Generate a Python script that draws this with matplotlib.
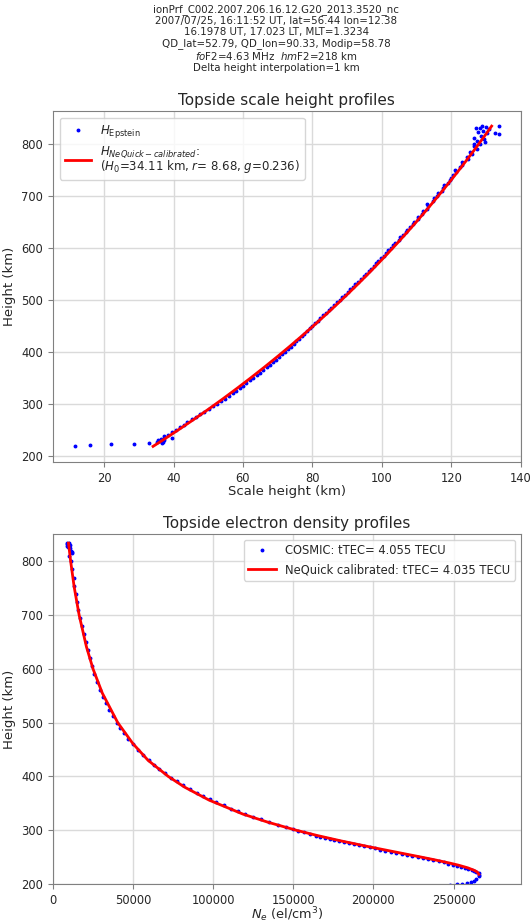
import matplotlib
matplotlib.use("Agg")
import matplotlib.pyplot as plt
import numpy as np

# Header text
info_lines = [
    "ionPrf_C002.2007.206.16.12.G20_2013.3520_nc",
    "2007/07/25, 16:11:52 UT, lat=56.44 lon=12.38",
    "16.1978 UT, 17.023 LT, MLT=1.3234",
    "QD_lat=52.79, QD_lon=90.33, Modip=58.78",
    "$fo$F2=4.63 MHz  $hm$F2=218 km",
    "Delta height interpolation=1 km",
]

# --- Topside scale height: Epstein (points) ---
h_eps = [219, 220.6, 222, 222.5, 223.8, 226, 231, 229, 233, 227, 224.5, 230, 234.6,
         235, 238, 240, 245, 250, 255, 260, 265, 270, 275, 280, 285, 290, 295, 300,
         305, 310, 315, 320, 325, 330, 335, 340, 345, 350, 355, 360, 365, 370, 375,
         380, 385, 390, 395, 400, 405, 410, 415, 420, 425, 430, 435, 440, 445, 450,
         455, 460, 465, 470, 475, 480, 485, 490, 495, 500, 505, 510, 515, 520, 525,
         530, 535, 540, 545, 550, 555, 560, 565, 570, 575, 580, 585, 590, 595, 600,
         605, 610, 615, 620, 625, 630, 635, 640, 645, 650, 655, 660, 665, 670, 675,
         680, 685, 690, 695, 700, 705, 710, 715, 720, 725, 730, 735, 740, 745, 750,
         755, 760, 765, 770, 775, 780, 785, 790, 795, 800, 805, 810, 815, 820, 825,
         830, 812, 822, 828, 833, 820, 834, 818, 835, 831, 800, 803]
H_eps = [11.6, 15.9, 22.0, 28.7, 33.0, 35.2, 35.5, 36.0, 36.4, 37.0, 36.8, 37.3, 39.7,
         37.3, 37.4, 38.5, 39.5, 40.6, 41.8, 43.0, 44.0, 45.2, 46.4, 47.5, 48.8, 50.1,
         51.3, 52.6, 53.8, 54.9, 56.0, 57.1, 58.1, 59.1, 60.1, 61.0, 62.1, 63.0, 64.0,
         64.9, 65.9, 66.8, 67.7, 68.6, 69.5, 70.4, 71.2, 72.1, 72.9, 73.8, 74.6, 75.4,
         76.2, 77.0, 77.7, 78.5, 79.2, 80.0, 80.7, 81.5, 82.3, 83.1, 83.9, 84.7, 85.4,
         86.2, 87.0, 87.8, 88.6, 89.3, 90.1, 90.9, 91.7, 92.4, 93.2, 93.9, 94.8, 95.4,
         96.2, 96.9, 97.7, 98.4, 99.0, 99.8, 100.6, 101.2, 101.9, 102.7, 103.3, 103.9,
         104.8, 105.3, 106.0, 106.9, 107.2, 108.1, 108.9, 109.3, 110.4, 110.5, 111.6,
         111.8, 112.9, 113.2, 113.1, 114.6, 115.0, 115.9, 116.1, 117.2, 117.5, 118.0,
         118.9, 119.6, 119.8, 120.6, 121.3, 121.0, 122.5, 123.1, 123.2, 124.8, 124.6,
         125.9, 125.5, 127.3, 126.4, 128.2, 127.3, 129.5, 128.4, 130.4, 129.2, 128.3,
         126.5, 127.8, 130.8, 129.9, 132.5, 133.7, 133.7, 128.9, 127.2, 126.4, 129.6]

# --- Topside scale height: NeQuick calibrated (line) ---
h_nq = [218, 230, 250, 270, 290, 310, 330, 350, 370, 390, 410, 430, 450, 470, 490,
        510, 530, 550, 570, 590, 610, 630, 650, 670, 690, 710, 730, 750, 770, 790,
        810, 834]
H_nq = [34.11, 36.92, 41.47, 45.89, 50.18, 54.34, 58.37, 62.29, 66.10, 69.80, 73.40,
        76.90, 80.31, 83.63, 86.86, 90.00, 93.07, 96.06, 98.97, 101.82, 104.59, 107.30,
        109.94, 112.52, 115.04, 117.50, 119.91, 122.27, 124.57, 126.82, 129.02, 131.6]

# --- Electron density: COSMIC (points) ---
h_cos = [198, 199, 200, 201, 203, 206, 210, 214, 217,
         220, 222, 224, 226, 228, 230, 232, 234, 236, 238, 240, 242, 244, 246, 248,
         250, 252, 254, 256, 258, 260, 262, 264, 266, 268, 270, 272, 274, 276, 278,
         280, 282, 284, 286, 288, 290, 293, 296, 299, 302, 306, 310, 315, 320, 325,
         330, 335, 340, 346, 352, 358, 364, 370, 377, 384, 391, 398, 406, 414, 422,
         430, 440, 450, 460, 470, 480, 490, 500, 512, 524, 536, 548, 560, 575, 590,
         605, 620, 635, 650, 665, 680, 695, 710, 725, 740, 755, 770, 785, 800, 810,
         820, 826, 830, 834, 828, 818, 835, 824, 832, 815]
ne_cos = [247500, 252000, 255500, 258500, 261000, 262800, 264300, 265600, 266100,
          265800, 264300, 263000, 261400, 259300, 257000, 254500, 252100, 249500,
          246600, 243800, 240700, 237500, 234300, 231100, 227700, 224300, 220900,
          217600, 214200, 210900, 207500, 204200, 200900, 197600, 194300, 190900,
          187700, 184600, 181500, 178500, 175500, 172600, 169700, 166900, 164200,
          160400, 156600, 152800, 149600, 145300, 140700, 135100, 129900, 124800,
          119800, 115500, 111400, 106600, 102000, 97700, 93800, 89900, 85300, 81000,
          77400, 73500, 69700, 66400, 63300, 59800, 56400, 53000, 49800, 47000, 44300,
          41900, 39700, 37200, 35100, 33000, 31100, 29400, 27400, 25600, 24200, 22900,
          21700, 20400, 19300, 18000, 17100, 15900, 15200, 14300, 13400, 12900, 11700,
          11500, 10300, 11200, 9300, 10500, 9000, 8800, 11800, 9900, 10700, 8600, 12000]

# --- Electron density: NeQuick calibrated (line) ---
h_nqd = [218, 222, 225, 230, 235, 239, 245, 250, 260, 269, 280, 290, 300, 315, 330,
         356, 380, 400, 430, 461, 500, 555, 600, 641, 700, 753, 800, 834]
ne_nqd = [265800, 264900, 263200, 258900, 253000, 247400, 238100, 229800, 212800,
          197600, 179900, 165100, 151700, 134000, 118500, 97400, 82200, 71950, 59340,
          49890, 40420, 30780, 24990, 20890, 16330, 13190, 11030, 9676]

label_eps = r"$H_{\rm Epstein}$"
label_nq = "$H_{NeQuick-calibrated}$:\n($H_0$=34.11 km, $r$= 8.68, $g$=0.236)"
label_cos = "COSMIC: tTEC= 4.055 TECU"
label_nqd = "NeQuick calibrated: tTEC= 4.035 TECU"

# Style
txt = "#262626"
plt.rcParams.update({
    "font.family": "DejaVu Sans",
    "font.size": 8.3,
    "text.color": txt,
    "axes.labelcolor": txt,
    "xtick.color": "#808080",
    "ytick.color": "#808080",
    "xtick.labelcolor": txt,
    "ytick.labelcolor": txt,
    "axes.edgecolor": "#808080",
    "grid.color": "#dadada",
    "grid.linewidth": 1.0,
})

fig = plt.figure(figsize=(5.31, 9.23), dpi=100)

# Header
fig.text(0.52, 0.996, "\n".join(info_lines), ha="center", va="top",
         fontsize=7.4, linespacing=1.13)

# Top panel: scale height
ax1 = fig.add_axes([0.0998, 0.4995, 0.881, 0.3802])
ax1.plot(H_eps, h_eps, ".", color="blue", ms=3.6, label=label_eps, zorder=2)
ax1.plot(H_nq, h_nq, "-", color="red", lw=2, label=label_nq, zorder=3)
ax1.set_xlim(5.3, 140)
ax1.set_ylim(188, 863)
ax1.set_xticks([20, 40, 60, 80, 100, 120, 140])
ax1.set_yticks([200, 300, 400, 500, 600, 700, 800])
ax1.grid(True)
ax1.set_axisbelow(True)
ax1.set_title("Topside scale height profiles", fontsize=11, pad=4)
ax1.set_xlabel("Scale height (km)", fontsize=9.5, labelpad=0)
ax1.set_ylabel("Height (km)", fontsize=9.5)
leg1 = ax1.legend(loc="upper left", fontsize=8.5, handlelength=2.2,
                  labelspacing=0.35, borderaxespad=0.6, framealpha=0.8)
leg1.get_texts()[1].set_linespacing(0.85)

# Bottom panel: electron density
ax2 = fig.add_axes([0.0998, 0.0423, 0.881, 0.3792])
ax2.plot(ne_cos, h_cos, ".", color="blue", ms=3.6, label=label_cos, zorder=2)
ax2.plot(ne_nqd, h_nqd, "-", color="red", lw=2, label=label_nqd, zorder=3)
ax2.set_xlim(0, 292000)
ax2.set_ylim(200, 851)
ax2.set_xticks([0, 50000, 100000, 150000, 200000, 250000])
ax2.set_yticks([200, 300, 400, 500, 600, 700, 800])
ax2.grid(True)
ax2.set_axisbelow(True)
ax2.set_title("Topside electron density profiles", fontsize=11, pad=4)
ax2.set_xlabel("$N_e$ (el/cm$^3$)", fontsize=9.3, labelpad=-1)
ax2.set_ylabel("Height (km)", fontsize=9.5)
ax2.legend(loc="upper right", fontsize=8.3, handlelength=2.4, framealpha=0.8)

fig.savefig("out.png", dpi=100)
